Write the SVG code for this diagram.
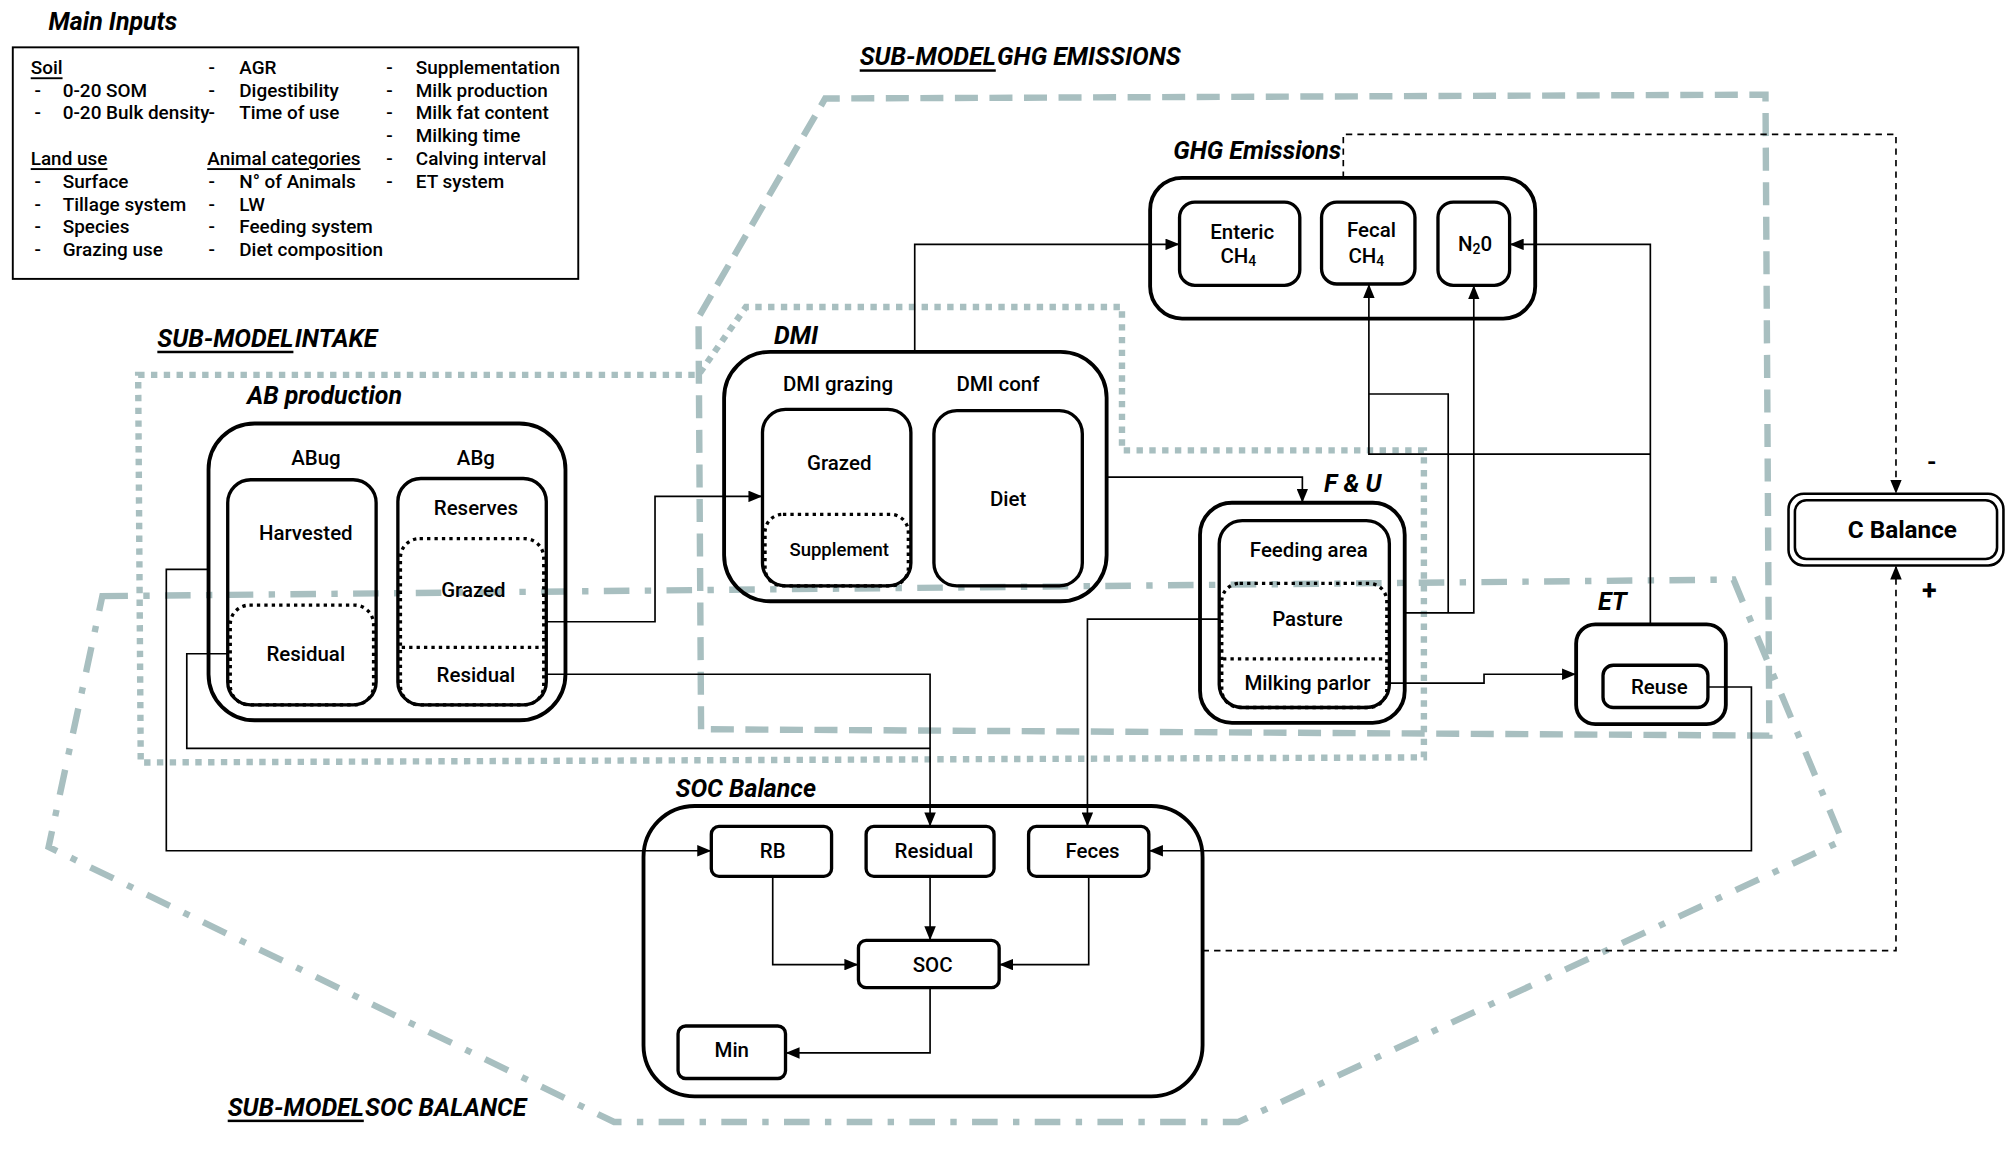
<svg xmlns="http://www.w3.org/2000/svg" width="2006" height="1154" viewBox="0 0 2006 1154">
<defs>
<style>
.box{fill:none;stroke:#000;stroke-width:3}
.in{fill:none;stroke:#000;stroke-width:2.6}
.dot{fill:none;stroke:#000;stroke-width:2.6;stroke-dasharray:2.6 3.2}
.c{fill:none;stroke:#000;stroke-width:1.3}
.d{fill:none;stroke:#000;stroke-width:1.3;stroke-dasharray:5 4}
.t{font-family:Roboto,"Liberation Sans",sans-serif;font-weight:500;font-size:16px;text-anchor:middle;dominant-baseline:central;fill:#000}
.l{font-family:Roboto,"Liberation Sans",sans-serif;font-weight:500;font-size:14.8px;dominant-baseline:central;fill:#000}
.h{font-family:Roboto,"Liberation Sans",sans-serif;font-weight:700;font-style:italic;font-size:19.5px;dominant-baseline:central;fill:#000}
.sg{fill:none;stroke:#a8bfc0;stroke-width:5;stroke-dasharray:18 9}
.si{fill:none;stroke:#a8bfc0;stroke-width:5;stroke-dasharray:5 5}
.ss{fill:none;stroke:#a8bfc0;stroke-width:5;stroke-dasharray:20 12 5 12}
</style>
<marker id="a" markerUnits="userSpaceOnUse" markerWidth="11" markerHeight="9" refX="11" refY="4.5" orient="auto">
<path d="M0,0 L11,4.5 L0,9 Z" fill="#000"/>
</marker>
</defs>
<rect width="2006" height="1154" fill="#fff"/>
<g transform="scale(1.279337)">

<g id="submodels">
<path class="sg" d="M548,570 L546,248 L645,77 L1380,74 L1383,575 Z"/>
<path class="si" d="M108,293 L546,293 L583,240 L877,240 L877,352 L1113,352 L1113,592 L110,596 Z"/>
<path class="ss" d="M80,466 L1355,453 L1440,657 L968,877 L480,877 L38,662 Z"/>
<text class="h" x="672" y="44"><tspan text-decoration="underline">SUB-MODEL</tspan><tspan dx="1">GHG EMISSIONS</tspan></text>
<text class="h" x="123" y="264"><tspan text-decoration="underline">SUB-MODEL</tspan><tspan dx="1">INTAKE</tspan></text>
<text class="h" x="178" y="865"><tspan text-decoration="underline">SUB-MODEL</tspan><tspan dx="1">SOC BALANCE</tspan></text>
</g>

<g id="main-inputs">
<text class="h" x="38" y="17">Main Inputs</text>
<rect x="10" y="37" width="442" height="181" fill="none" stroke="#000" stroke-width="1.5"/>
<text class="l" x="24" y="53" text-decoration="underline">Soil</text>
<text class="l" x="27" y="71">-</text><text class="l" x="49" y="71">0-20 SOM</text>
<text class="l" x="27" y="88">-</text><text class="l" x="49" y="88">0-20 Bulk density</text>
<text class="l" x="24" y="124" text-decoration="underline">Land use</text>
<text class="l" x="27" y="142">-</text><text class="l" x="49" y="142">Surface</text>
<text class="l" x="27" y="160">-</text><text class="l" x="49" y="160">Tillage system</text>
<text class="l" x="27" y="177">-</text><text class="l" x="49" y="177">Species</text>
<text class="l" x="27" y="195">-</text><text class="l" x="49" y="195">Grazing use</text>
<text class="l" x="163" y="53">-</text><text class="l" x="187" y="53">AGR</text>
<text class="l" x="163" y="71">-</text><text class="l" x="187" y="71">Digestibility</text>
<text class="l" x="163" y="88">-</text><text class="l" x="187" y="88">Time of use</text>
<text class="l" x="162" y="124" text-decoration="underline">Animal categories</text>
<text class="l" x="163" y="142">-</text><text class="l" x="187" y="142">N° of Animals</text>
<text class="l" x="163" y="160">-</text><text class="l" x="187" y="160">LW</text>
<text class="l" x="163" y="177">-</text><text class="l" x="187" y="177">Feeding system</text>
<text class="l" x="163" y="195">-</text><text class="l" x="187" y="195">Diet composition</text>
<text class="l" x="302" y="53">-</text><text class="l" x="325" y="53">Supplementation</text>
<text class="l" x="302" y="71">-</text><text class="l" x="325" y="71">Milk production</text>
<text class="l" x="302" y="88">-</text><text class="l" x="325" y="88">Milk fat content</text>
<text class="l" x="302" y="106">-</text><text class="l" x="325" y="106">Milking time</text>
<text class="l" x="302" y="124">-</text><text class="l" x="325" y="124">Calving interval</text>
<text class="l" x="302" y="142">-</text><text class="l" x="325" y="142">ET system</text>
</g>

<g id="ab-production">
<text class="h" x="193" y="309">AB production</text>
<rect class="box" x="163" y="331" width="279" height="232" rx="36"/>
<text class="t" x="247" y="358">ABug</text>
<text class="t" x="372" y="358">ABg</text>
<rect class="in" x="178" y="375" width="116" height="176" rx="18"/>
<rect class="dot" x="180" y="473" width="112" height="78" rx="15"/>
<text class="t" x="239" y="417">Harvested</text>
<text class="t" x="239" y="511">Residual</text>
<rect class="in" x="311" y="374" width="116" height="177" rx="18"/>
<rect class="dot" x="313" y="421" width="112" height="130" rx="15"/>
<line class="dot" x1="314" y1="506" x2="424" y2="506"/>
<text class="t" x="372" y="397">Reserves</text>
<text class="t" x="370" y="461">Grazed</text>
<text class="t" x="372" y="528">Residual</text>
</g>

<g id="dmi">
<text class="h" x="605" y="262">DMI</text>
<rect class="box" x="566" y="275" width="299" height="195" rx="36"/>
<text class="t" x="655" y="300">DMI grazing</text>
<text class="t" x="780" y="300">DMI conf</text>
<rect class="in" x="596" y="320" width="116" height="138" rx="18"/>
<rect class="dot" x="598" y="402" width="112" height="56" rx="14"/>
<text class="t" x="656" y="362">Grazed</text>
<text class="t" x="656" y="430" style="font-size:14.5px">Supplement</text>
<rect class="in" x="730" y="321" width="116" height="137" rx="18"/>
<text class="t" x="788" y="390">Diet</text>
</g>

<g id="ghg-emissions">
<text class="h" x="917" y="118">GHG Emissions</text>
<rect class="box" x="899" y="139" width="301" height="110" rx="25"/>
<rect class="in" x="922" y="158" width="94" height="65" rx="12"/>
<text class="t" x="971" y="181">Enteric</text>
<text class="t" x="968" y="200">CH<tspan dy="4" font-size="11">4</tspan></text>
<rect class="in" x="1033" y="158" width="73" height="64" rx="12"/>
<text class="t" x="1072" y="180">Fecal</text>
<text class="t" x="1068" y="200">CH<tspan dy="4" font-size="11">4</tspan></text>
<rect class="in" x="1124" y="158" width="56" height="65" rx="12"/>
<text class="t" x="1153" y="191">N<tspan dy="4" font-size="11">2</tspan><tspan dy="-4">0</tspan></text>
</g>

<g id="f-and-u">
<text class="h" x="1035" y="378">F &amp; U</text>
<rect class="box" x="938" y="393" width="160" height="172" rx="25"/>
<rect class="in" x="953" y="407" width="133" height="146" rx="18"/>
<rect class="dot" x="955" y="456" width="129" height="97" rx="14"/>
<line class="dot" x1="956" y1="515" x2="1083" y2="515"/>
<text class="t" x="1023" y="430">Feeding area</text>
<text class="t" x="1022" y="484">Pasture</text>
<text class="t" x="1022" y="534">Milking parlor</text>
</g>

<g id="et">
<text class="h" x="1249" y="470">ET</text>
<rect class="box" x="1232" y="488" width="117" height="78" rx="15"/>
<rect class="in" x="1253" y="520" width="82" height="33" rx="8"/>
<text class="t" x="1297" y="537">Reuse</text>
</g>

<g id="c-balance">
<rect x="1398" y="386" width="168" height="56" rx="12" fill="none" stroke="#000" stroke-width="2"/>
<rect x="1403" y="391" width="158" height="46" rx="9" fill="none" stroke="#000" stroke-width="2"/>
<text class="t" x="1487" y="414" style="font-size:19px;font-weight:700">C Balance</text>
<text class="t" x="1510" y="361" style="font-size:19px;font-weight:700">-</text>
<text class="t" x="1508" y="462" style="font-size:21px;font-weight:700">+</text>
</g>

<g id="soc-balance">
<text class="h" x="528" y="616">SOC Balance</text>
<rect class="box" x="503" y="630" width="437" height="227" rx="40"/>
<rect class="in" x="556" y="646" width="94" height="39" rx="6"/>
<text class="t" x="604" y="665">RB</text>
<rect class="in" x="677" y="646" width="100" height="39" rx="6"/>
<text class="t" x="730" y="665">Residual</text>
<rect class="in" x="804" y="646" width="94" height="39" rx="6"/>
<text class="t" x="854" y="665">Feces</text>
<rect class="in" x="671" y="735" width="110" height="37" rx="6"/>
<text class="t" x="729" y="754">SOC</text>
<rect class="in" x="530" y="802" width="84" height="41" rx="6"/>
<text class="t" x="572" y="821">Min</text>
</g>

<g id="connectors">
<path class="c" d="M427,486 H512 V388 H596" marker-end="url(#a)"/>
<path class="c" d="M427,527 H727 V646" marker-end="url(#a)"/>
<path class="c" d="M178,511 H146 V585 H727"/>
<path class="c" d="M163,445 H130 V665 H556" marker-end="url(#a)"/>
<path class="c" d="M715,275 V191 H922" marker-end="url(#a)"/>
<path class="c" d="M865,373 H1018 V393" marker-end="url(#a)"/>
<path class="c" d="M953,484 H850 V646" marker-end="url(#a)"/>
<path class="c" d="M1098,479 H1152 V223" marker-end="url(#a)"/>
<path class="c" d="M1132,479 V308 H1070"/>
<path class="c" d="M1290,355 H1070 V222" marker-end="url(#a)"/>
<path class="c" d="M1290,488 V191 H1180" marker-end="url(#a)"/>
<path class="c" d="M1086,534 H1160 V527 H1232" marker-end="url(#a)"/>
<path class="c" d="M1335,537 H1369 V665 H898" marker-end="url(#a)"/>
<path class="c" d="M604,685 V754 H671" marker-end="url(#a)"/>
<path class="c" d="M727,685 V735" marker-end="url(#a)"/>
<path class="c" d="M851,685 V754 H781" marker-end="url(#a)"/>
<path class="c" d="M727,772 V823 H614" marker-end="url(#a)"/>
<path class="d" d="M1050,139 V105 H1482 V386" marker-end="url(#a)"/>
<path class="d" d="M940,743 H1482 V442" marker-end="url(#a)"/>
</g>
</g>
</svg>
